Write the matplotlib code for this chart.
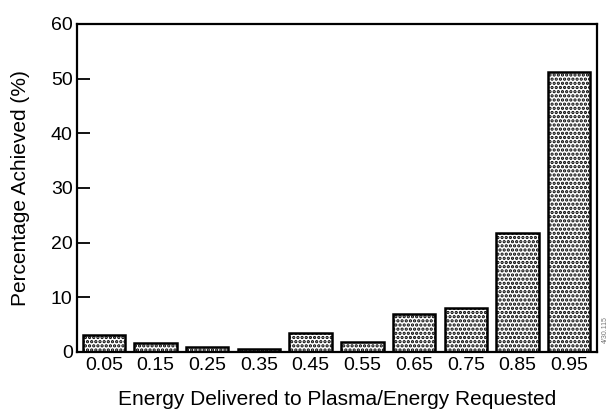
import matplotlib.pyplot as plt

plt.rcParams['font.family'] = ['Liberation Sans', 'DejaVu Sans']
plt.rcParams['hatch.linewidth'] = 1.6

# Data
ratios = ['0.05', '0.15', '0.25', '0.35', '0.45', '0.55', '0.65', '0.75', '0.85', '0.95']
percent = [3.1, 1.6, 0.8, 0.6, 3.4, 1.8, 6.9, 8.1, 21.7, 51.2]

fig = plt.figure(figsize=(6.1, 4.12), dpi=100)
ax = fig.add_axes([0.126, 0.146, 0.853, 0.796])

x = range(len(ratios))
ax.bar(x, percent, width=0.82, color='white', edgecolor='black',
       linewidth=1.8, hatch='....')

ax.set_xlim(-0.52, 9.54)
ax.set_ylim(0, 60)
ax.set_yticks([0, 10, 20, 30, 40, 50, 60])
ax.set_xticks(list(x))
ax.set_xticklabels(ratios)
ax.tick_params(axis='y', direction='in', length=9, width=1.3, labelsize=14, pad=3)
ax.tick_params(axis='x', length=0, labelsize=14, pad=4)
for s in ax.spines.values():
    s.set_linewidth(1.6)

ax.set_xlabel('Energy Delivered to Plasma/Energy Requested', fontsize=15, labelpad=11)
ax.set_ylabel('Percentage Achieved (%)', fontsize=15, labelpad=15)

fig.text(0.992, 0.2, '4/30.115', rotation=90, fontsize=5, color='#777777',
         ha='center', va='center')

fig.savefig('out.png', dpi=100)
